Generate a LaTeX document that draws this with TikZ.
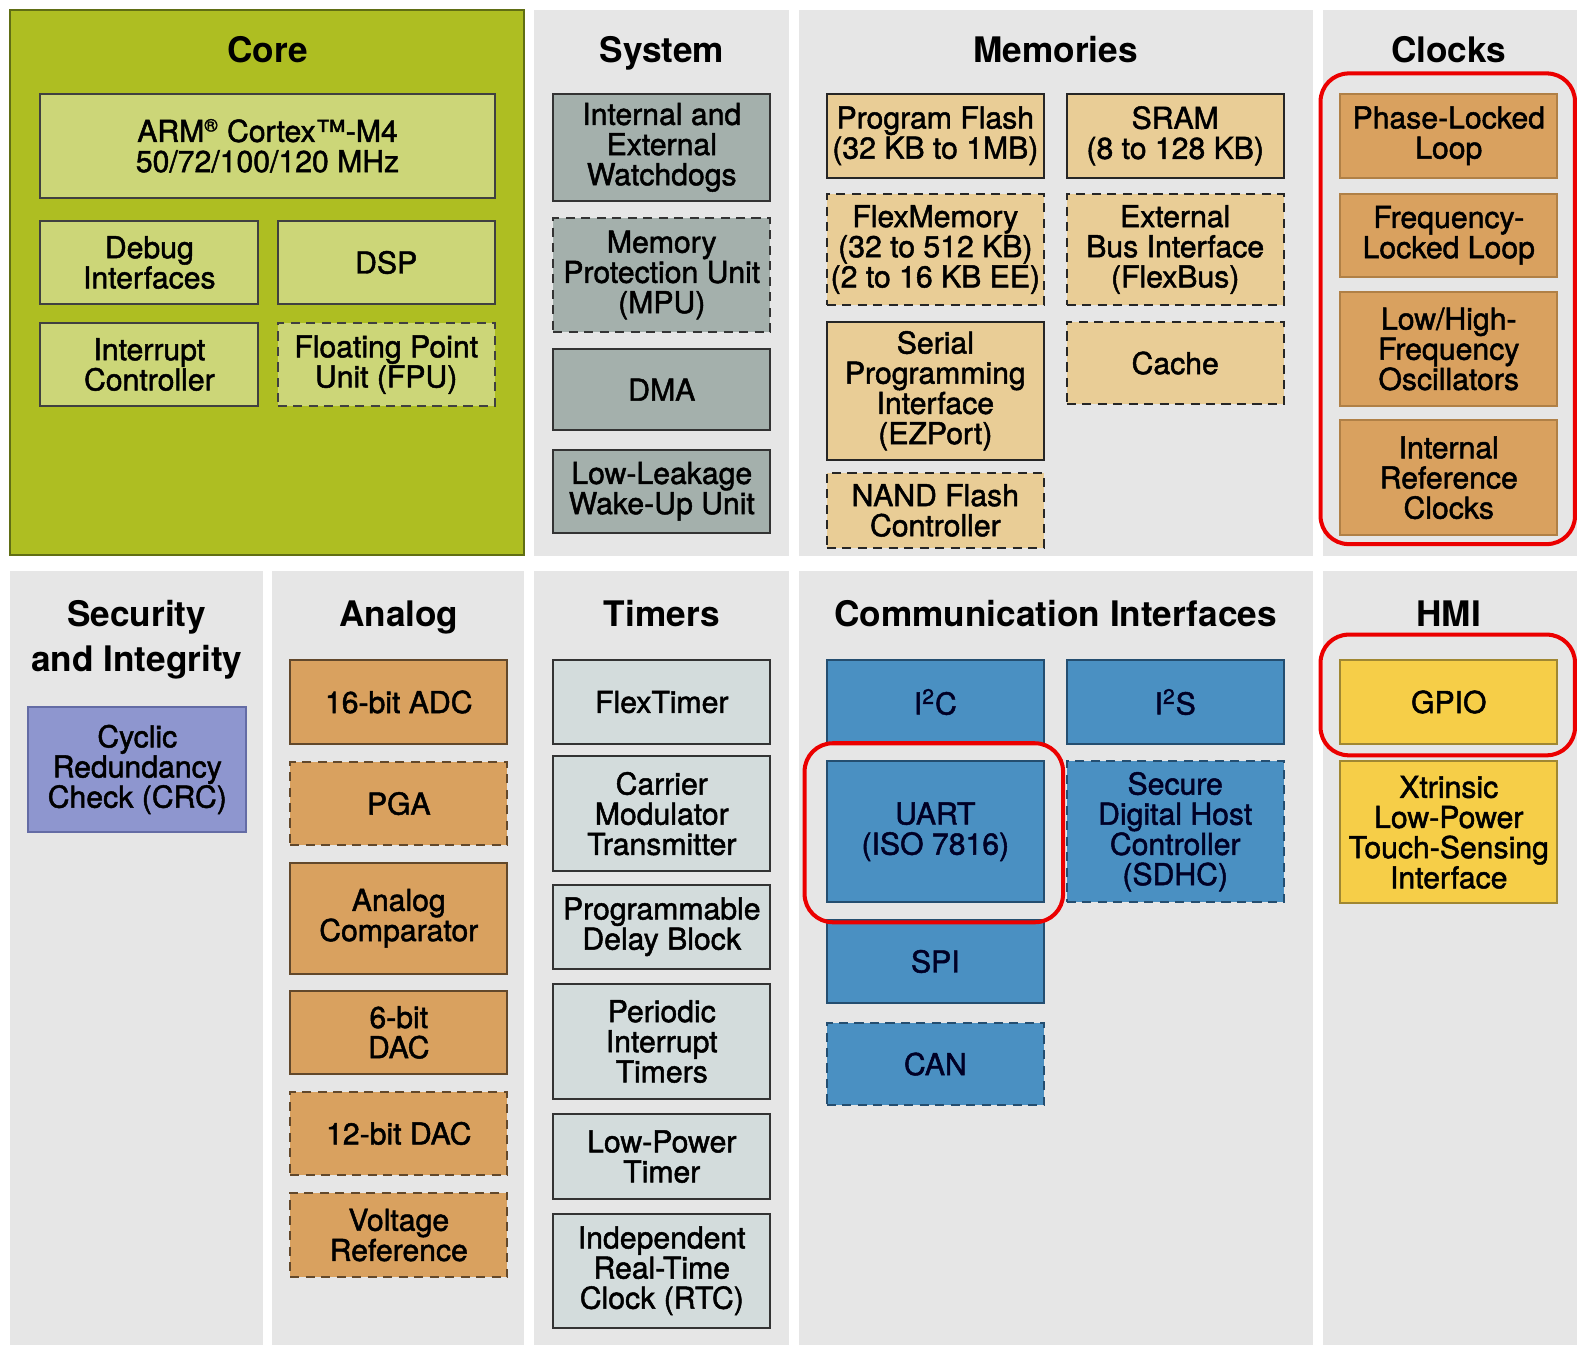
\documentclass[tikz,border=0pt]{standalone}
\usepackage{fontspec}
\setmainfont{TeX Gyre Heros}
\newfontfamily\boxfont{TeX Gyre Heros}[FakeBold=1.6]
\usepackage{tikz}

\definecolor{panelgray}{RGB}{230,230,230}
\definecolor{coregreen}{RGB}{174,190,34}
\definecolor{coreedge}{RGB}{96,110,20}
\definecolor{corefill}{RGB}{204,214,120}
\definecolor{sysfill}{RGB}{164,176,172}
\definecolor{memfill}{RGB}{233,205,150}
\definecolor{clkfill}{RGB}{217,161,95}
\definecolor{clkedge}{RGB}{176,128,70}
\definecolor{crcfill}{RGB}{142,150,207}
\definecolor{crcedge}{RGB}{100,108,165}
\definecolor{commfill}{RGB}{74,144,194}
\definecolor{commedge}{RGB}{36,78,112}
\definecolor{hmifill}{RGB}{246,206,72}
\definecolor{hmiedge}{RGB}{160,135,50}
\definecolor{tmrfill}{RGB}{211,220,220}
\definecolor{hired}{RGB}{235,0,0}

\begin{document}
\begin{tikzpicture}[x=0.5pt, y=-0.5pt, font=\boxfont\fontsize{15}{15}\selectfont,
	panel/.style={fill=panelgray, draw=none},
	ttl/.style={font=\normalfont\fontsize{17.5}{22}\selectfont\bfseries, align=center},
	blk/.style={draw, line width=1pt, align=center, inner sep=0pt, minimum width=108pt, minimum height=41pt},
	opt/.style={dash pattern=on 4.5pt off 3.2pt},
	corebox/.style={blk, fill=corefill, draw=black!75},
	sysbox/.style={blk, fill=sysfill, draw=black!80},
	membox/.style={blk, fill=memfill, draw=black!85},
	clkbox/.style={blk, fill=clkfill, draw=clkedge},
	anabox/.style={blk, fill=clkfill, draw=black!55!clkfill},
	crcbox/.style={blk, fill=crcfill, draw=crcedge},
	commbox/.style={blk, fill=commfill, draw=commedge, text=black!85!blue},
	hmibox/.style={blk, fill=hmifill, draw=hmiedge},
	tmrbox/.style={blk, fill=tmrfill, draw=black!80},
	hilite/.style={draw=hired, line width=2pt, rounded corners=14pt}]

	\useasboundingbox[fill=white] (0,0) rectangle (1568,1337);

	% panels
	\fill[coregreen, draw=coreedge, line width=1pt] (10,10) rectangle (521,552);
	\fill[panel] (531,10) rectangle (784,553);
	\fill[panel] (794,10) rectangle (1305,553);
	\fill[panel] (1315,10) rectangle (1568,553);
	\fill[panel] (10,568) rectangle (261,1337);
	\fill[panel] (270,568) rectangle (521,1337);
	\fill[panel] (531,568) rectangle (784,1337);
	\fill[panel] (794,568) rectangle (1305,1337);
	\fill[panel] (1315,568) rectangle (1568,1337);

	% core
	\node[ttl, anchor=base] (tcore) at (266,62) {Core};
	\node[corebox, minimum width=226pt, minimum height=52pt] (arm) at (266,145) {ARM\textsuperscript{\fontsize{9}{9}\selectfont ®} Cortex™-M4\\50/72/100/120 MHz};
	\node[corebox, minimum width=108.5pt] (debug) at (148.5,261) {Debug\\Interfaces};
	\node[corebox] (dsp) at (384,261) {DSP};
	\node[corebox, minimum width=108.5pt, minimum height=41.5pt] (nvic) at (148.5,362.5) {Interrupt\\Controller};
	\node[corebox, opt, minimum height=41.5pt] (fpu) at (384,362.5) {Floating Point\\Unit (FPU)};

	% system
	\node[ttl, anchor=base] (tsys) at (658,62) {System};
	\node[sysbox, minimum height=53.5pt] (wdog) at (658,146.5) {Internal and\\External\\Watchdogs};
	\node[sysbox, opt, minimum height=56.5pt] (mpu) at (658,273.5) {Memory\\Protection Unit\\(MPU)};
	\node[sysbox, minimum height=40.5pt] (dma) at (658,387.5) {DMA};
	\node[sysbox, minimum height=41.5pt] (llwu) at (658,488.5) {Low-Leakage\\Wake-Up Unit};

	% memories
	\node[ttl, anchor=base] (tmem) at (1049.5,62) {Memories};
	\node[membox, minimum height=42pt] (pflash) at (930,135) {Program Flash\\(32 KB to 1MB)};
	\node[membox, minimum height=42pt] (sram) at (1168.5,135) {SRAM\\(8 to 128 KB)};
	\node[membox, opt, minimum height=55pt] (flexmem) at (930,248) {FlexMemory\\(32 to 512 KB)\\(2 to 16 KB EE)};
	\node[membox, opt, minimum height=55pt] (flexbus) at (1168.5,248) {External\\Bus Interface\\(FlexBus)};
	\node[membox, minimum height=68.5pt] (ezport) at (930,388.5) {Serial\\Programming\\Interface\\(EZPort)};
	\node[membox, opt] (cache) at (1168.5,361) {Cache};
	\node[membox, opt, minimum height=37.5pt] (nand) at (930,507.5) {NAND Flash\\Controller};

	% clocks
	\node[ttl, anchor=base] (tclk) at (1440.5,62) {Clocks};
	\node[clkbox, minimum height=42pt] (pll) at (1440.5,135) {Phase-Locked\\Loop};
	\node[clkbox] (fll) at (1440.5,234) {Frequency-\\Locked Loop};
	\node[clkbox, minimum height=57pt] (osc) at (1440.5,347) {Low/High-\\Frequency\\Oscillators};
	\node[clkbox, minimum height=57pt] (irc) at (1440.5,475) {Internal\\Reference\\Clocks};
	\draw[hilite] (1313,73) rectangle (1566,541);

	% security and integrity
	\node[ttl] (tsec) at (136,636) {Security\\and Integrity};
	\node[crcbox, minimum width=108.5pt, minimum height=62pt] (crc) at (136.5,765) {Cyclic\\Redundancy\\Check (CRC)};

	% analog
	\node[ttl, anchor=base] (tana) at (396.5,623) {Analog};
	\node[anabox, minimum height=42pt] (adc) at (396.5,698) {16-bit ADC};
	\node[anabox, opt] (pga) at (396.5,799) {PGA};
	\node[anabox, minimum height=55pt] (cmp) at (396.5,913) {Analog\\Comparator};
	\node[anabox, minimum height=41.5pt] (dac6) at (396.5,1026.5) {6-bit\\DAC};
	\node[anabox, opt] (dac12) at (396.5,1127) {12-bit DAC};
	\node[anabox, opt, minimum height=42pt] (vref) at (396.5,1228) {Voltage\\Reference};

	% timers
	\node[ttl, anchor=base] (ttmr) at (658,623) {Timers};
	\node[tmrbox, minimum height=42pt] (ftm) at (658,698) {FlexTimer};
	\node[tmrbox, minimum height=57pt] (cmt) at (658,809) {Carrier\\Modulator\\Transmitter};
	\node[tmrbox, minimum height=41.5pt] (pdb) at (658,921.5) {Programmable\\Delay Block};
	\node[tmrbox, minimum height=57.5pt] (pit) at (658,1035.5) {Periodic\\Interrupt\\Timers};
	\node[tmrbox, minimum height=42pt] (lptmr) at (658,1150) {Low-Power\\Timer};
	\node[tmrbox, minimum height=56.5pt] (rtc) at (658,1263.5) {Independent\\Real-Time\\Clock (RTC)};

	% communication interfaces
	\node[ttl, anchor=base] (tcomm) at (1049.5,623) {Communication Interfaces};
	\node[commbox, minimum height=42pt] (i2c) at (930,698) {I\textsuperscript{2}C};
	\node[commbox, minimum height=42pt] (i2s) at (1168.5,698) {I\textsuperscript{2}S};
	\node[commbox, minimum height=70pt] (uart) at (930,827) {UART\\(ISO 7816)};
	\node[commbox, opt, minimum height=70pt] (sdhc) at (1168.5,827) {Secure\\Digital Host\\Controller\\(SDHC)};
	\node[commbox] (spi) at (930,956) {SPI};
	\node[commbox, opt] (can) at (930,1058) {CAN};
	\draw[hilite] (800,739) rectangle (1057,917);

	% HMI
	\node[ttl, anchor=base] (thmi) at (1440.5,623) {HMI};
	\node[hmibox, minimum height=42pt] (gpio) at (1440.5,698) {GPIO};
	\node[hmibox, minimum height=70.5pt] (tsi) at (1440.5,827.5) {Xtrinsic\\Low-Power\\Touch-Sensing\\Interface};
	\draw[hilite] (1313,631) rectangle (1566,751);
\end{tikzpicture}
\end{document}
